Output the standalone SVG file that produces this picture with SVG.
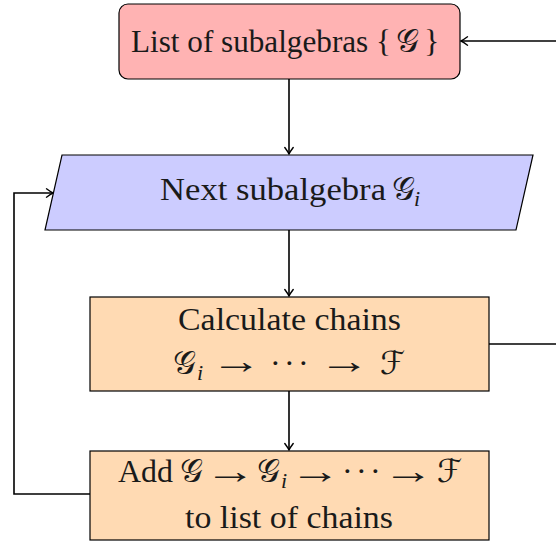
<svg xmlns="http://www.w3.org/2000/svg" width="556" height="541" viewBox="0 0 556 541">
  <style>
    .node { stroke: #000; stroke-width: 1.2; }
    .lbl { font-family: "Liberation Serif", "DejaVu Serif", serif; font-size: 32px; fill: #1a1a1a; }
    .m { font-family: "DejaVu Sans", "Noto Sans", serif; font-style: normal; font-size: 32px; }
    .ar { font-family: "Liberation Serif", "DejaVu Serif", serif; font-size: 36px; fill: #1a1a1a; }
    .sub { font-family: "Liberation Serif", serif; font-style: italic; font-size: 22px; }
    .edge { fill: none; stroke: #000; stroke-width: 1.6; }
  </style>
  <defs>
    <marker id="arr" viewBox="-8 -5 10 10" refX="0" refY="0" markerWidth="10" markerHeight="10" markerUnits="userSpaceOnUse" orient="auto">
      <path d="M -6.5 -4.2 Q -2.5 -1.2 0 0 Q -2.5 1.2 -6.5 4.2" fill="none" stroke="#000" stroke-width="1.4" stroke-linecap="round"/>
    </marker>
  </defs>

  <g id="connectors">
    <path class="edge" d="M 556 41 L 461 41" marker-end="url(#arr)"/>
    <path class="edge" d="M 289 79 L 289 154" marker-end="url(#arr)"/>
    <path class="edge" d="M 289 230 L 289 296" marker-end="url(#arr)"/>
    <path class="edge" d="M 289 391 L 289 450" marker-end="url(#arr)"/>
    <path class="edge" d="M 489 344 L 556 344"/>
    <path class="edge" d="M 90 494 L 14 494 L 14 193 L 53 193" marker-end="url(#arr)"/>
  </g>

  <g id="list">
    <rect class="node" x="119" y="4" width="341" height="75" rx="9" fill="#ffb3b3"/>
    <text class="lbl" y="52"><tspan x="131" textLength="260" lengthAdjust="spacingAndGlyphs">List of subalgebras {</tspan><tspan class="m" x="396">𝒢</tspan><tspan x="424">}</tspan></text>
  </g>

  <g id="next">
    <polygon class="node" points="62,155 533,155 516,230 45,230" fill="#ccccff"/>
    <text class="lbl" y="200"><tspan x="160" textLength="226" lengthAdjust="spacingAndGlyphs">Next subalgebra</tspan><tspan class="m" x="392">𝒢</tspan><tspan class="sub" x="414" dy="6">i</tspan></text>
  </g>

  <g id="calculate">
    <rect class="node" x="90" y="297" width="399" height="94" fill="#ffdab3"/>
    <text class="lbl" x="178" y="330" textLength="223" lengthAdjust="spacingAndGlyphs">Calculate chains</text>
    <text class="lbl" y="374"><tspan class="m" x="173">𝒢</tspan><tspan class="sub" x="197" dy="6">i</tspan><tspan x="270 284 298" dy="-6">···</tspan><tspan class="m" x="380">ℱ</tspan></text>
    <text class="ar" transform="translate(211 373) scale(1.42 1)">→</text>
    <text class="ar" transform="translate(319 373) scale(1.42 1)">→</text>
  </g>

  <g id="add">
    <rect class="node" x="90" y="451" width="399" height="89" fill="#ffdab3"/>
    <text class="lbl" y="482"><tspan x="118" textLength="55" lengthAdjust="spacingAndGlyphs">Add</tspan><tspan class="m" x="180">𝒢</tspan><tspan class="m" x="257">𝒢</tspan><tspan class="sub" x="281" dy="6">i</tspan><tspan x="342 356 370" dy="-6">···</tspan><tspan class="m" x="437">ℱ</tspan></text>
    <text class="ar" transform="translate(205 483) scale(1.42 1)">→</text>
    <text class="ar" transform="translate(290 483) scale(1.42 1)">→</text>
    <text class="ar" transform="translate(383 483) scale(1.42 1)">→</text>
    <text class="lbl" x="185" y="528" textLength="208" lengthAdjust="spacingAndGlyphs">to list of chains</text>
  </g>
</svg>
